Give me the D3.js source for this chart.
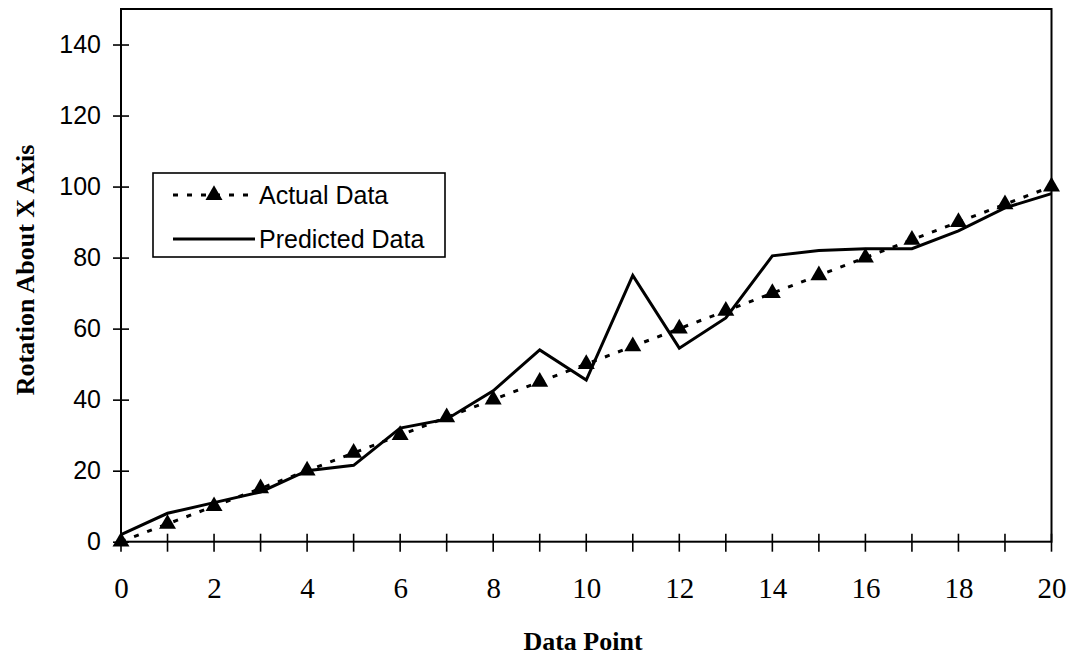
<!DOCTYPE html>
<html>
<head>
<meta charset="utf-8">
<script src="https://cdn.jsdelivr.net/npm/d3@7"></script>
<style>
  html, body { margin: 0; padding: 0; background: #fff; }
  svg { display: block; }
</style>
</head>
<body>
<svg id="chart" width="1075" height="657"></svg>
<script>
// Data points along the x axis
const dataPoints = [0,1,2,3,4,5,6,7,8,9,10,11,12,13,14,15,16,17,18,19,20];
// Measured rotation about the X axis
const actualData = [0,5,10,15,20,25,30,35,40,45,50,55,60,65,70,75,80,85,90,95,100];
// Model prediction for the same points
const predictedData = [2,8,11,14,20,21.5,32,34.5,42.5,54,45.5,75,54.5,63,80.5,82,82.5,82.5,87.5,94,98];
// Axis ticks
const yTicks = [0,20,40,60,80,100,120,140];
const xMinorTicks = dataPoints;
const xLabelTicks = [0,2,4,6,8,10,12,14,16,18,20];
const seriesNames = ["Actual Data", "Predicted Data"];

const svg = d3.select("#chart");
const plotLeft = 121, plotRight = 1051.5, plotTop = 9, plotBottom = 541.7;

const x = d3.scaleLinear().domain([0, 20]).range([plotLeft, plotRight]);
const y = d3.scaleLinear().domain([0, 150]).range([plotBottom, plotTop]);

// Plot frame
svg.append("rect")
  .attr("x", plotLeft).attr("y", plotTop)
  .attr("width", plotRight - plotLeft).attr("height", plotBottom - plotTop)
  .attr("fill", "none").attr("stroke", "#000").attr("stroke-width", 2);

// Y axis: cross ticks with sans labels
const yAxis = d3.axisLeft(y).tickValues(yTicks).tickSize(0).tickPadding(20);
const gy = svg.append("g").attr("transform", `translate(${plotLeft},0)`).call(yAxis);
gy.select(".domain").remove();
gy.selectAll("text")
  .attr("font-family", "Liberation Sans, Arial, sans-serif")
  .attr("font-size", 25).attr("fill", "#000");
gy.selectAll(".tick").append("line")
  .attr("x1", -8).attr("x2", 8)
  .attr("stroke", "#000").attr("stroke-width", 1.6);

// X axis: ticks at every point, serif labels every second one
const xAxis = d3.axisBottom(x).tickValues(xLabelTicks).tickSize(0).tickPadding(36);
const gx = svg.append("g").attr("transform", `translate(0,${plotBottom})`).call(xAxis);
gx.select(".domain").remove();
gx.selectAll("text")
  .attr("font-family", "Liberation Serif, Times New Roman, serif")
  .attr("font-size", 29).attr("fill", "#000");
gx.selectAll("line.minor").data(xMinorTicks).enter().append("line")
  .attr("class", "minor")
  .attr("x1", d => x(d)).attr("x2", d => x(d))
  .attr("y1", -8).attr("y2", 10)
  .attr("stroke", "#000").attr("stroke-width", 1.6);

// Axis titles
svg.append("text")
  .attr("x", 583).attr("y", 650)
  .attr("text-anchor", "middle")
  .attr("font-family", "Liberation Serif, Times New Roman, serif")
  .attr("font-weight", "bold").attr("font-size", 26)
  .text("Data Point");

svg.append("text")
  .attr("transform", "translate(34,270) rotate(-90)")
  .attr("text-anchor", "middle")
  .attr("font-family", "Liberation Serif, Times New Roman, serif")
  .attr("font-weight", "bold").attr("font-size", 26)
  .text("Rotation About X Axis");

// Series lines
const line = (vals) => d3.line()
  .x((d, i) => x(dataPoints[i]))
  .y(d => y(d))(vals);

svg.append("path")
  .attr("d", line(predictedData))
  .attr("fill", "none").attr("stroke", "#000")
  .attr("stroke-width", 3).attr("stroke-linejoin", "miter");

svg.append("path")
  .attr("d", line(actualData))
  .attr("fill", "none").attr("stroke", "#000")
  .attr("stroke-width", 3).attr("stroke-dasharray", "5,9");

const tri = d3.symbol().type(d3.symbolTriangle).size(125);
svg.append("g").selectAll("path").data(actualData).enter().append("path")
  .attr("d", tri)
  .attr("transform", (d, i) => `translate(${x(dataPoints[i])},${y(d)})`)
  .attr("fill", "#000");

// Legend
const lg = svg.append("g");
lg.append("rect")
  .attr("x", 153).attr("y", 173).attr("width", 292).attr("height", 84)
  .attr("fill", "#fff").attr("stroke", "#000").attr("stroke-width", 1.6);
lg.append("line")
  .attr("x1", 173).attr("x2", 255).attr("y1", 195).attr("y2", 195)
  .attr("stroke", "#000").attr("stroke-width", 3).attr("stroke-dasharray", "5,9");
lg.append("path").attr("d", tri).attr("transform", "translate(214,195)").attr("fill", "#000");
lg.append("line")
  .attr("x1", 173).attr("x2", 255).attr("y1", 239).attr("y2", 239)
  .attr("stroke", "#000").attr("stroke-width", 3);
lg.selectAll("text.lab").data(seriesNames).enter().append("text")
  .attr("class", "lab")
  .attr("x", 259).attr("y", (d, i) => 204 + i * 44)
  .attr("font-family", "Liberation Sans, Arial, sans-serif")
  .attr("font-size", 25).attr("fill", "#000")
  .text(d => d);
</script>
</body>
</html>
